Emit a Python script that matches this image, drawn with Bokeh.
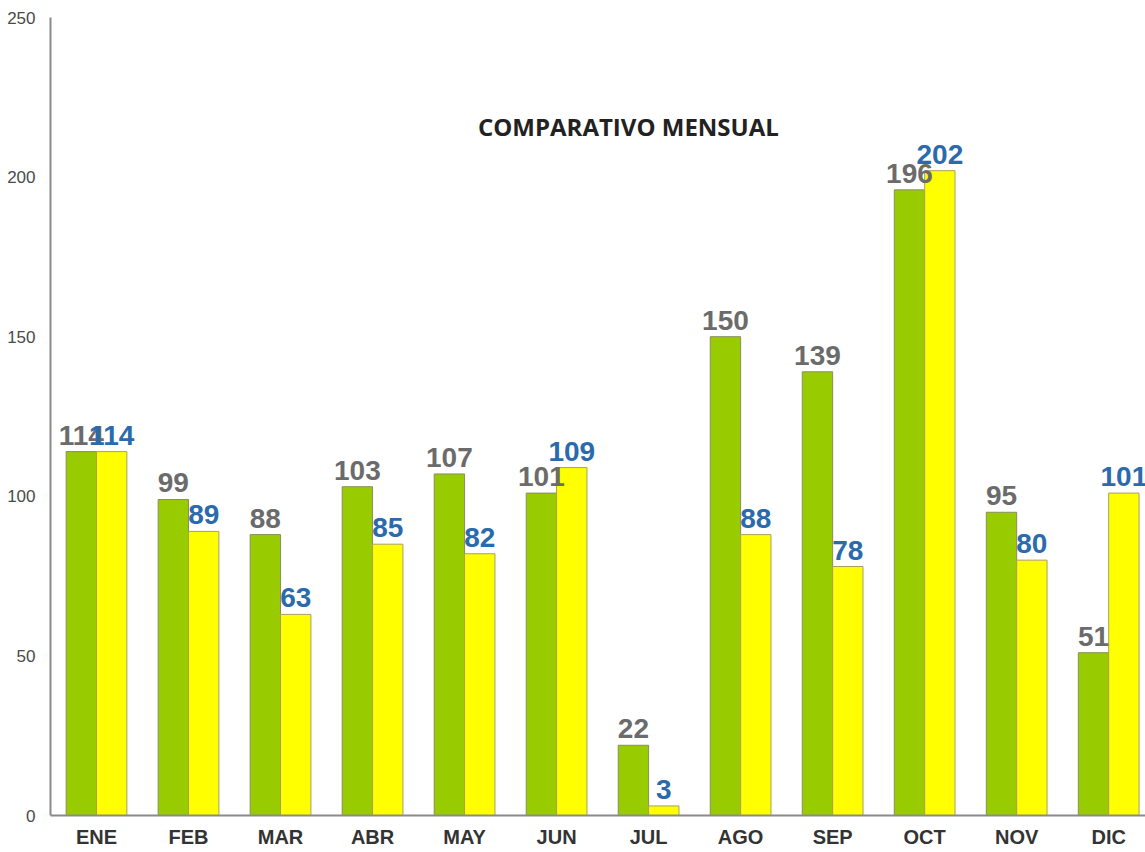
import numpy as np
from bokeh.plotting import figure
from bokeh.models import Range1d, FixedTicker, Label, ColumnDataSource
from bokeh.core.properties import value
from bokeh.embed import file_html
from bokeh.resources import INLINE

months = ["ENE", "FEB", "MAR", "ABR", "MAY", "JUN", "JUL", "AGO", "SEP", "OCT", "NOV", "DIC"]
serie_verde = [114, 99, 88, 103, 107, 101, 22, 150, 139, 196, 95, 51]
serie_amarilla = [114, 89, 63, 85, 82, 109, 3, 88, 78, 202, 80, 101]
y_ticks = [0, 50, 100, 150, 200, 250]
title_text = "COMPARATIVO MENSUAL"

centers = np.arange(len(months)) + 0.5
bar_w = 0.33

src = ColumnDataSource(dict(
    xg=centers - bar_w / 2, xy=centers + bar_w / 2,
    g=serie_verde, y=serie_amarilla,
    gl=[str(v) for v in serie_verde], yl=[str(v) for v in serie_amarilla],
))

p = figure(frame_width=1095, frame_height=798, output_backend="svg", toolbar_location=None,
           x_range=Range1d(0, 11.9), y_range=Range1d(0, 250),
           min_border_left=50, min_border_right=0, min_border_top=17, min_border_bottom=0)
p.outline_line_color = None
p.xgrid.visible = False
p.ygrid.visible = False
p.background_fill_color = "white"

p.vbar(x="xg", top="g", width=bar_w, bottom=0, source=src,
       fill_color="#99cc00", line_color="#8c8c5a", line_width=1)
p.vbar(x="xy", top="y", width=bar_w, bottom=0, source=src,
       fill_color="#ffff00", line_color="#a8a060", line_width=1)

p.text(x="xg", y="g", text="gl", source=src, text_align="center", text_baseline="bottom",
       y_offset=-7, text_font=value("Liberation Sans"), text_font_style="bold",
       text_font_size="28px", text_color="#6b6b6b")
p.text(x="xy", y="y", text="yl", source=src, text_align="center", text_baseline="bottom",
       y_offset=-7, text_font=value("Liberation Sans"), text_font_style="bold",
       text_font_size="28px", text_color="#2a6aad")

p.add_layout(Label(x=6.28, y=216, text=title_text, text_align="center", text_baseline="middle",
                   text_font="Open Sans", text_font_style="bold", text_font_size="24px",
                   text_color="#222222"))

p.yaxis.ticker = FixedTicker(ticks=y_ticks)
p.yaxis.major_tick_line_color = None
p.yaxis.minor_tick_line_color = None
p.yaxis.axis_line_color = "#8a8a8a"
p.yaxis.axis_line_width = 2
p.yaxis.major_label_text_font = "Liberation Sans"
p.yaxis.major_label_text_font_size = "17px"
p.yaxis.major_label_text_color = "#4a4a4a"
p.yaxis.major_label_standoff = 9

p.xaxis.ticker = FixedTicker(ticks=list(centers))
p.xaxis.major_label_overrides = {float(c): m for c, m in zip(centers, months)}
p.xaxis.major_tick_line_color = None
p.xaxis.minor_tick_line_color = None
p.xaxis.axis_line_color = "#8a8a8a"
p.xaxis.axis_line_width = 2
p.xaxis.major_label_text_font = "Liberation Sans"
p.xaxis.major_label_text_font_style = "bold"
p.xaxis.major_label_text_font_size = "20px"
p.xaxis.major_label_text_color = "#333333"
p.xaxis.major_label_standoff = 4

open("out.html", "w").write(file_html(p, INLINE))
